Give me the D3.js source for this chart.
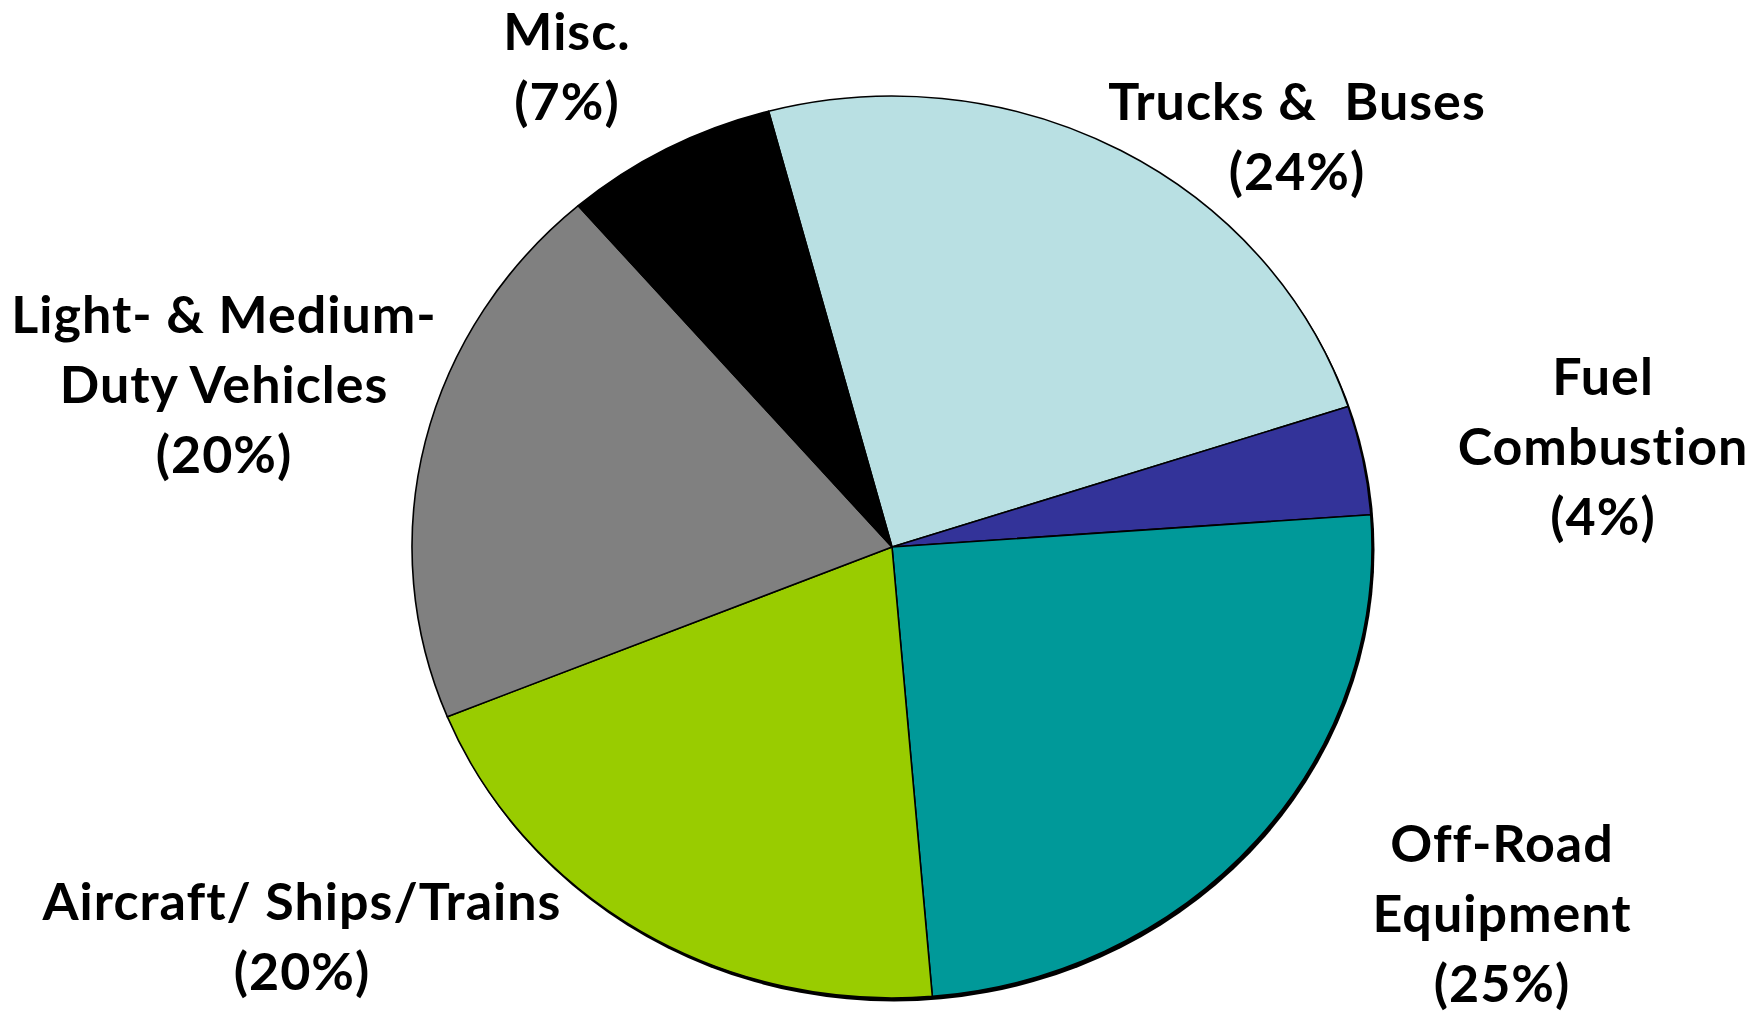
<!DOCTYPE html>
<html>
<head>
<meta charset="utf-8">
<script src="https://cdn.jsdelivr.net/npm/d3@7"></script>
<style>
  body { margin: 0; background: #fff; }
  svg { display: block; }
  .label { font-family: Lato, "Open Sans", sans-serif; font-weight: 700; font-size: 52px; letter-spacing: 1px; font-variant-ligatures: none; fill: #000; white-space: pre; }
</style>
</head>
<body>
<svg width="1754" height="1014"></svg>
<script>
const width = 1754;
const height = 1014;

// slices, clockwise from the Misc./Trucks boundary
const categories = ["Trucks & Buses", "Fuel Combustion", "Off-Road Equipment", "Aircraft/ Ships/Trains", "Light- & Medium-Duty Vehicles", "Misc."];
const shares = [24.1, 3.9, 24.8, 20.2, 19.8, 7.2];
const colors = ["#b9e0e3", "#333399", "#009999", "#99cc00", "#808080", "#000000"];
const labelLines = [
  ["Trucks &  Buses", "(24%)"],
  ["Fuel", "Combustion", "(4%)"],
  ["Off-Road", "Equipment", "(25%)"],
  ["Aircraft/ Ships/Trains", "(20%)"],
  ["Light- & Medium-", "Duty Vehicles", "(20%)"],
  ["Misc.", "(7%)"]
];

// layout
const cx = 892, cy = 547, rx = 480, ry = 451;
const labelPos = [[1297, 120], [1603, 395], [1502, 862], [302, 920], [224, 333], [567, 50]];
const lineStep = 70;

const svg = d3.select("svg");

const pie = d3.pie()
  .sort(null)
  .startAngle(-14.9 * Math.PI / 180)
  .endAngle((360 - 14.9) * Math.PI / 180);

const arc = d3.arc().innerRadius(0).outerRadius(rx);

const arcs = pie(shares);

// shadow under the pie (thicker edge bottom-right)
svg.append("ellipse")
  .attr("cx", cx + 2)
  .attr("cy", cy + 3)
  .attr("rx", rx + 0.5)
  .attr("ry", ry + 0.5)
  .attr("fill", "#000");

const g = svg.append("g")
  .attr("transform", `translate(${cx},${cy}) scale(1,${ry / rx})`);

g.selectAll("path")
  .data(arcs)
  .enter()
  .append("path")
  .attr("d", arc)
  .attr("fill", (d, i) => colors[i])
  .attr("stroke", "#000")
  .attr("stroke-width", 1.6)
  .attr("stroke-linejoin", "round")
  .attr("vector-effect", "non-scaling-stroke");

const labels = svg.append("g")
  .selectAll("text")
  .data(labelLines)
  .enter()
  .append("text")
  .attr("class", "label")
  .attr("text-anchor", "middle")
  .attr("x", (d, i) => labelPos[i][0])
  .attr("y", (d, i) => labelPos[i][1]);

labels.each(function (lines, i) {
  const t = d3.select(this);
  lines.forEach((line, j) => {
    t.append("tspan")
      .attr("x", labelPos[i][0])
      .attr("y", labelPos[i][1] + j * lineStep)
      .text(line);
  });
});
</script>
</body>
</html>
